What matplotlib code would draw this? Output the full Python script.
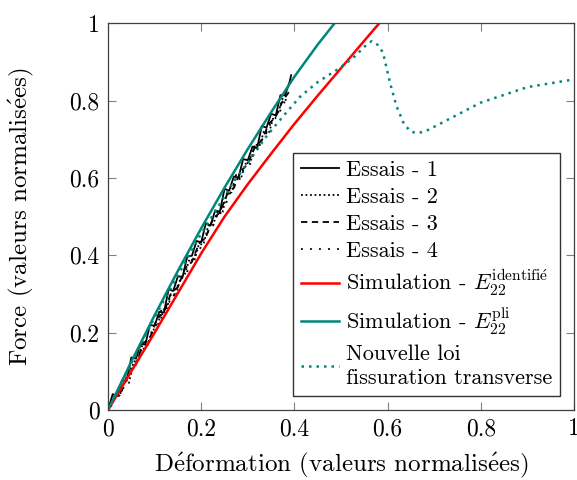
import matplotlib
matplotlib.use('Agg')
import matplotlib.pyplot as plt

plt.rcParams['font.family'] = ['cmr10', 'DejaVu Serif']
plt.rcParams['mathtext.fontset'] = 'cm'
plt.rcParams['axes.formatter.use_mathtext'] = True

# essais (experimental, noisy)
x1 = [0, 0.01, 0.02, 0.03, 0.04, 0.05, 0.06, 0.07, 0.08, 0.09, 0.10, 0.11, 0.12, 0.13, 0.14, 0.15, 0.16, 0.17,
      0.18, 0.19, 0.20, 0.21, 0.22, 0.23, 0.24, 0.25, 0.26, 0.27, 0.28, 0.29, 0.30, 0.31, 0.32, 0.33, 0.34, 0.35,
      0.36, 0.37, 0.38, 0.39, 0.393]
y1 = [0, 0.041, 0.036, 0.077, 0.075, 0.136, 0.133, 0.171, 0.169, 0.220, 0.218, 0.254, 0.252, 0.312, 0.308, 0.346,
      0.344, 0.397, 0.399, 0.437, 0.434, 0.483, 0.477, 0.516, 0.513, 0.572, 0.567, 0.604, 0.601, 0.649, 0.646,
      0.681, 0.677, 0.735, 0.730, 0.766, 0.762, 0.814, 0.814, 0.850, 0.866]

x2 = [0, 0.005, 0.015, 0.025, 0.035, 0.045, 0.055, 0.065, 0.075, 0.085, 0.095, 0.105, 0.115, 0.125, 0.135, 0.145,
      0.155, 0.165, 0.175, 0.185, 0.195, 0.205, 0.215, 0.225, 0.235, 0.245, 0.255, 0.265, 0.275, 0.285, 0.295,
      0.305, 0.315, 0.325, 0.335, 0.345, 0.355, 0.365, 0.375, 0.385]
y2 = [0, 0.004, 0.036, 0.037, 0.075, 0.070, 0.125, 0.129, 0.175, 0.168, 0.208, 0.208, 0.262, 0.258, 0.300, 0.294,
      0.338, 0.352, 0.391, 0.385, 0.429, 0.428, 0.477, 0.477, 0.514, 0.507, 0.560, 0.563, 0.608, 0.598, 0.637,
      0.636, 0.688, 0.682, 0.723, 0.715, 0.757, 0.769, 0.807, 0.799]

x3 = [0, 0.015, 0.030, 0.045, 0.060, 0.075, 0.090, 0.105, 0.120, 0.135, 0.150, 0.165, 0.180, 0.195, 0.210, 0.225,
      0.240, 0.255, 0.270, 0.285, 0.300, 0.315, 0.330, 0.345, 0.360, 0.375, 0.388]
y3 = [0, 0.036, 0.050, 0.104, 0.118, 0.172, 0.186, 0.236, 0.252, 0.302, 0.318, 0.366, 0.383, 0.430, 0.447, 0.494,
      0.511, 0.556, 0.574, 0.618, 0.636, 0.680, 0.697, 0.740, 0.758, 0.800, 0.822]

x4 = [0, 0.014, 0.028, 0.042, 0.056, 0.070, 0.084, 0.098, 0.112, 0.126, 0.140, 0.154, 0.168, 0.182, 0.196, 0.210,
      0.224, 0.238, 0.252, 0.266, 0.280, 0.294, 0.308, 0.322, 0.336, 0.350, 0.364, 0.380]
y4 = [0, 0.030, 0.040, 0.090, 0.106, 0.150, 0.168, 0.212, 0.232, 0.272, 0.292, 0.335, 0.352, 0.395, 0.412, 0.455,
      0.472, 0.515, 0.530, 0.575, 0.590, 0.632, 0.648, 0.690, 0.705, 0.745, 0.760, 0.800]

# simulations
x_ident = [0, 0.1, 0.2, 0.25, 0.3, 0.35, 0.4, 0.45, 0.5, 0.55, 0.582]
y_ident = [0, 0.2, 0.405, 0.5, 0.584, 0.663, 0.740, 0.813, 0.884, 0.955, 1.0]

x_pli = [0, 0.05, 0.1, 0.15, 0.2, 0.25, 0.3, 0.35, 0.4, 0.45, 0.486]
y_pli = [0, 0.125, 0.245, 0.36, 0.47, 0.575, 0.675, 0.77, 0.862, 0.945, 1.0]

x_loi = [0, 0.1, 0.196, 0.268, 0.304, 0.34, 0.376, 0.412, 0.45, 0.498, 0.53, 0.555, 0.566, 0.578, 0.59, 0.605,
         0.619, 0.634, 0.648, 0.662, 0.68, 0.72, 0.8, 0.9, 1.0]
y_loi = [0, 0.24, 0.448, 0.587, 0.646, 0.708, 0.76, 0.81, 0.848, 0.885, 0.915, 0.945, 0.954, 0.945, 0.925, 0.847,
         0.786, 0.743, 0.721, 0.716, 0.72, 0.745, 0.795, 0.835, 0.855]

ticks = [0, 0.2, 0.4, 0.6, 0.8, 1]
tick_labels = ['0', '0.2', '0.4', '0.6', '0.8', '1']

teal = '#00877a'
e_acute = r'$\acute{\mathrm{e}}$'

fig = plt.figure(figsize=(5.77, 4.8), dpi=100)
ax = fig.add_axes([0.1872, 0.1458, 0.8076, 0.8056])

ax.plot(x1, y1, color='k', lw=1.3, ls='-', label='Essais - 1')
ax.plot(x2, y2, color='k', lw=1.3, ls=(0, (1, 1.5)), label='Essais - 2')
ax.plot(x3, y3, color='k', lw=1.3, ls=(0, (3.5, 2.5)), label='Essais - 3')
ax.plot(x4, y4, color='k', lw=1.3, ls=(0, (1, 4)), label='Essais - 4')
ax.plot(x_ident, y_ident, color='red', lw=1.8,
        label=r'Simulation - $E_{22}^{\mathrm{identifi}\acute{\mathrm{e}}}$')
ax.plot(x_pli, y_pli, color=teal, lw=1.8, label=r'Simulation - $E_{22}^{\mathrm{pli}}$')
ax.plot(x_loi, y_loi, color=teal, lw=1.8, ls=(0, (1, 2)), label='Nouvelle loi\nfissuration transverse')

ax.set_xlim(0, 1)
ax.set_ylim(0, 1)
ax.set_xticks(ticks)
ax.set_yticks(ticks)
ax.set_xticklabels(tick_labels)
ax.set_yticklabels(tick_labels)
ax.tick_params(direction='in', top=True, right=True, length=6, color='#808080', labelsize=17, pad=6)
for s in ax.spines.values():
    s.set_color('#404040')
    s.set_linewidth(0.9)

ax.set_xlabel('D' + e_acute + 'formation (valeurs normalis' + e_acute + 'es)', fontsize=18)
ax.set_ylabel('Force (valeurs normalis' + e_acute + 'es)', fontsize=18)
ax.xaxis.set_label_coords(0.5, -0.105)
ax.yaxis.set_label_coords(-0.155, 0.5)

leg = ax.legend(loc='lower right', fontsize=16, frameon=True, fancybox=False, edgecolor='#333333',
                framealpha=1, handlelength=1.7, handletextpad=0.3, labelspacing=0.33,
                borderaxespad=0.65, borderpad=0.35)
leg.get_frame().set_linewidth(1.0)
leg.get_texts()[-1].set_linespacing(1.3)

fig.savefig('out.png', dpi=100)
